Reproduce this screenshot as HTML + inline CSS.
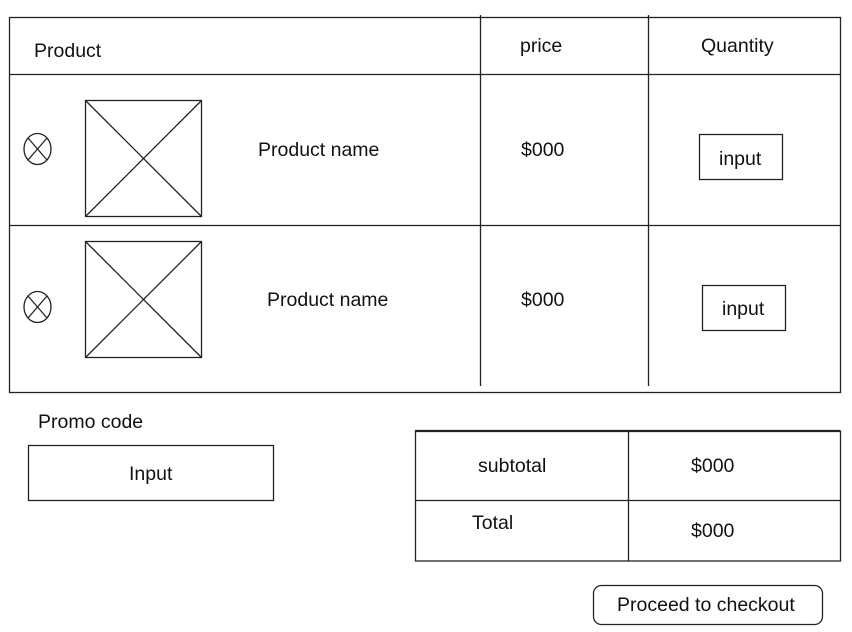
<!DOCTYPE html>
<html><head><meta charset="utf-8"><style>
html,body{margin:0;padding:0;background:#fff;width:852px;height:632px;overflow:hidden}
text{font-family:"Liberation Sans",Arial,sans-serif;font-size:19.5px;fill:#111}
</style></head><body>
<svg width="852" height="632" viewBox="0 0 852 632" xmlns="http://www.w3.org/2000/svg">
<g stroke="#222" stroke-width="1.3" fill="none">
<rect x="9.5" y="17.5" width="831" height="375"/>
<line x1="9" y1="74.5" x2="840" y2="74.5"/>
<line x1="9" y1="225.5" x2="840" y2="225.5"/>
<line x1="480.5" y1="15" x2="480.5" y2="386"/>
<line x1="648.5" y1="15" x2="648.5" y2="386"/>
<rect x="85.5" y="100.5" width="116" height="116"/>
<line x1="85.5" y1="100.5" x2="201.5" y2="216.5"/><line x1="201.5" y1="100.5" x2="85.5" y2="216.5"/>
<rect x="85.5" y="241.5" width="116" height="116"/>
<line x1="85.5" y1="241.5" x2="201.5" y2="357.5"/><line x1="201.5" y1="241.5" x2="85.5" y2="357.5"/>
<ellipse cx="37.5" cy="149" rx="13.5" ry="15.5"/>
<line x1="28" y1="138" x2="47" y2="160"/><line x1="47" y1="138" x2="28" y2="160"/>
<ellipse cx="37.5" cy="307" rx="13.5" ry="15.5"/>
<line x1="28" y1="296" x2="47" y2="318"/><line x1="47" y1="296" x2="28" y2="318"/>
<rect x="699.5" y="134.5" width="83" height="45"/>
<rect x="702.5" y="285.5" width="83" height="45"/>
<rect x="28.5" y="445.5" width="245" height="55"/>
<rect x="415.5" y="431" width="425" height="130"/>
<line x1="415" y1="431" x2="840" y2="431" stroke-width="2.2"/>
<line x1="415" y1="500.5" x2="840" y2="500.5"/>
<line x1="628.5" y1="431" x2="628.5" y2="561"/>
<rect x="593.5" y="585.5" width="229" height="39" rx="8"/>
</g>
<text x="34" y="57">Product</text>
<text x="520" y="52">price</text>
<text x="701" y="52">Quantity</text>
<text x="258" y="156">Product name</text>
<text x="521" y="156">$000</text>
<text x="719" y="165">input</text>
<text x="267" y="306">Product name</text>
<text x="521" y="306">$000</text>
<text x="722" y="315">input</text>
<text x="38" y="428">Promo code</text>
<text x="129" y="480">Input</text>
<text x="478" y="472">subtotal</text>
<text x="691" y="472">$000</text>
<text x="472" y="529">Total</text>
<text x="691" y="537">$000</text>
<text x="617" y="611">Proceed to checkout</text>
</svg>
</body></html>
